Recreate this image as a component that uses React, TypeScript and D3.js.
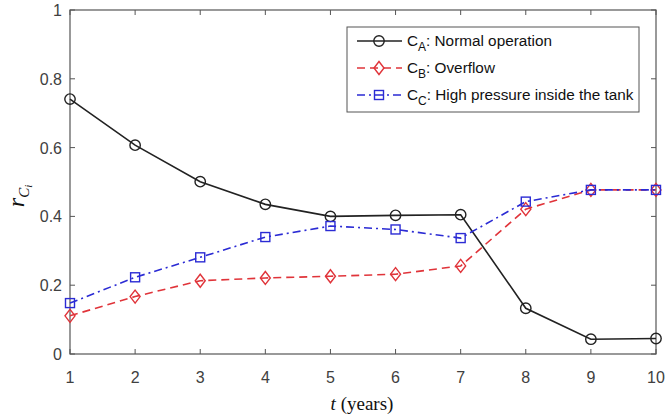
import React from 'react';
import * as d3 from 'd3';

const years = [1, 2, 3, 4, 5, 6, 7, 8, 9, 10];
const normalOperation = [0.741, 0.607, 0.501, 0.435, 0.4, 0.403, 0.405, 0.133, 0.043, 0.045];
const overflow = [0.111, 0.167, 0.213, 0.221, 0.226, 0.232, 0.256, 0.421, 0.477, 0.477];
const highPressure = [0.148, 0.223, 0.281, 0.34, 0.372, 0.362, 0.337, 0.443, 0.477, 0.477];
const yTicks = [0, 0.2, 0.4, 0.6, 0.8, 1];
const yTickLabels = ['0', '0.2', '0.4', '0.6', '0.8', '1'];

const W = 665;
const H = 417;
const margin = { left: 70, right: 9, top: 10, bottom: 63 };

const axisColor = '#555';
const textColor = '#404040';
const font = 'Arial, "Liberation Sans", sans-serif';

type Series = {
  sub: string;
  label: string;
  values: number[];
  color: string;
  dash: string;
  marker: 'circle' | 'diamond' | 'square';
};

const series: Series[] = [
  { sub: 'A', label: ': Normal operation', values: normalOperation, color: '#222', dash: '', marker: 'circle' },
  { sub: 'B', label: ': Overflow', values: overflow, color: '#e0343a', dash: '8,5', marker: 'diamond' },
  { sub: 'C', label: ': High pressure inside the tank', values: highPressure, color: '#2b2bd4', dash: '8,4,2,4', marker: 'square' },
];

const Marker: React.FC<{ kind: Series['marker']; x: number; y: number; color: string }> = ({ kind, x, y, color }) => {
  const common = { fill: 'none', stroke: color, strokeWidth: 1.4 };
  if (kind === 'circle') return <circle cx={x} cy={y} r={5.2} {...common} />;
  if (kind === 'diamond')
    return <path d={`M${x},${y - 6.5}L${x + 5},${y}L${x},${y + 6.5}L${x - 5},${y}Z`} {...common} />;
  return <rect x={x - 4.5} y={y - 4.5} width={9} height={9} {...common} />;
};

const App: React.FC = () => {
  const x = d3.scaleLinear().domain([1, 10]).range([margin.left, W - margin.right]);
  const y = d3.scaleLinear().domain([0, 1]).range([H - margin.bottom, margin.top]);
  const [x0, x1] = x.range();
  const [y0, y1] = y.range();

  const line = d3
    .line<number>()
    .x((_, i) => x(years[i]))
    .y((d) => y(d));

  const legendX = 347;
  const legendY = 27;
  const rowH = 27;

  return (
    <svg width={W} height={H} style={{ position: 'absolute', left: 0, top: 0, background: '#fff' }}>
      <rect width={W} height={H} fill="#fff" />
      {/* box */}
      <rect x={x0} y={y1} width={x1 - x0} height={y0 - y1} fill="none" stroke={axisColor} strokeWidth={1.2} />
      {/* ticks */}
      {years.map((t) => (
        <g key={`xt${t}`}>
          <line x1={x(t)} x2={x(t)} y1={y0} y2={y0 - 5} stroke={axisColor} />
          <line x1={x(t)} x2={x(t)} y1={y1} y2={y1 + 5} stroke={axisColor} />
          <text x={x(t)} y={y0 + 29} textAnchor="middle" fontFamily={font} fontSize={16} fill={textColor}>
            {t}
          </text>
        </g>
      ))}
      {yTicks.map((v, i) => (
        <g key={`yt${v}`}>
          <line x1={x0} x2={x0 + 5} y1={y(v)} y2={y(v)} stroke={axisColor} />
          <line x1={x1} x2={x1 - 5} y1={y(v)} y2={y(v)} stroke={axisColor} />
          <text x={x0 - 8} y={y(v) + 6} textAnchor="end" fontFamily={font} fontSize={16} fill={textColor}>
            {yTickLabels[i]}
          </text>
        </g>
      ))}
      {/* series */}
      {series.map((s) => (
        <g key={s.sub}>
          <path d={line(s.values) || ''} fill="none" stroke={s.color} strokeWidth={1.6} strokeDasharray={s.dash} />
          {s.values.map((v, i) => (
            <Marker key={i} kind={s.marker} x={x(years[i])} y={y(v)} color={s.color} />
          ))}
        </g>
      ))}
      {/* legend */}
      <rect x={legendX} y={legendY} width={292} height={85} fill="#fff" stroke={axisColor} strokeWidth={1} />
      {series.map((s, i) => {
        const cy = legendY + 14 + i * rowH;
        return (
          <g key={`lg${s.sub}`}>
            <line x1={legendX + 10} x2={legendX + 55} y1={cy} y2={cy} stroke={s.color} strokeWidth={1.6} strokeDasharray={s.dash} />
            <Marker kind={s.marker} x={legendX + 32} y={cy} color={s.color} />
            <text x={legendX + 60} y={cy + 5} fontFamily={font} fontSize={15.3} fill="#111">
              C
              <tspan dy={5} fontSize={12}>
                {s.sub}
              </tspan>
              <tspan dy={-5}>{s.label}</tspan>
            </text>
          </g>
        );
      })}
      {/* axis labels */}
      <text x={362} y={410} textAnchor="middle" fontFamily='"Liberation Serif", "Times New Roman", serif' fontSize={19} fill="#111">
        <tspan fontStyle="italic">t</tspan> (years)
      </text>
      <g transform={`translate(24, 196) rotate(-90)`}>
        <text x={0} y={0} textAnchor="middle" fontFamily='"Liberation Serif", "Times New Roman", serif' fontSize={24} fill="#111" fontStyle="italic">
          r
          <tspan dy={5} fontSize={15}>
            C
          </tspan>
          <tspan dy={3} fontSize={11}>
            i
          </tspan>
        </text>
      </g>
    </svg>
  );
};

export default App;
